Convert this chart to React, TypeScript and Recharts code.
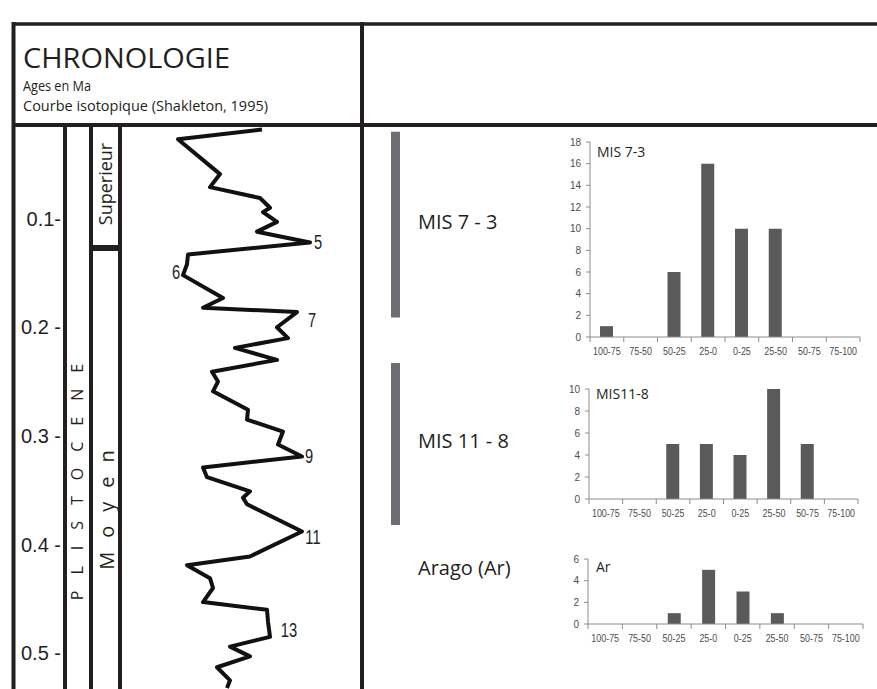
import React from 'react'
import { LineChart, Line, XAxis, YAxis, ReferenceArea, ReferenceDot, BarChart, Bar } from 'recharts'

const INK = '#231f20'
const AXIS = '#8c8c8c'
const ARIAL = '"Liberation Sans", Arial, sans-serif'
const SANS = '"Open Sans", "Noto Sans", sans-serif'

// Courbe isotopique (Shakleton, 1995)
// age in Ma, iso = relative d18O position inside the curve column
const curveAges = [
  0.018, 0.027, 0.059, 0.071, 0.081, 0.09, 0.094, 0.103, 0.112, 0.122,
  0.133, 0.142, 0.152, 0.173, 0.182, 0.186, 0.2, 0.21, 0.219, 0.23,
  0.241, 0.25, 0.259, 0.276, 0.285, 0.296, 0.308, 0.319, 0.329, 0.338,
  0.351, 0.357, 0.363, 0.388, 0.411, 0.419, 0.431, 0.44, 0.453, 0.46,
  0.471, 0.485, 0.494, 0.503, 0.513, 0.525, 0.532,
]
const curveIso = [
  142, 58, 100, 90, 140, 150, 143, 157, 137, 190,
  68, 67, 63, 103, 83, 177, 157, 168, 115, 157,
  92, 98, 93, 128, 127, 163, 158, 182, 83, 87,
  130, 123, 127, 182, 130, 67, 90, 93, 83, 147,
  148, 150, 110, 130, 97, 110, 107,
]

const ageTicks = [0.1, 0.2, 0.3, 0.4, 0.5]
const ageTickLabels = ['0.1-', '0.2 -', '0.3 -', '0.4 -', '0.5 -']

// MIS stage numbers written next to the curve
const stageNames = ['5', '6', '7', '9', '11', '13']
const stageIso = [198, 56, 192, 189, 193, 169]
const stageAges = [0.122, 0.149, 0.193, 0.319, 0.393, 0.479]

// periods (grey bars) and their labels
const periodNames = ['MIS 7 - 3', 'MIS 11 - 8', 'Arago (Ar)']
const periodStart = [0.02, 0.233, null]
const periodEnd = [0.191, 0.382, null]
const periodLabelAge = [0.103, 0.304, 0.421]

// histogram classes
const classes = ['100-75', '75-50', '50-25', '25-0', '0-25', '25-50', '50-75', '75-100']
const countsMis73 = [1, 0, 6, 16, 10, 10, 0, 0]
const countsMis118 = [0, 0, 5, 5, 4, 10, 5, 0]
const countsArago = [0, 0, 1, 5, 3, 1, 0, 0]

const ticksMis73 = [0, 2, 4, 6, 8, 10, 12, 14, 16, 18]
const ticksMis118 = [0, 2, 4, 6, 8, 10]
const ticksArago = [0, 2, 4, 6]

// condensed look: squeeze text horizontally
const Narrow = ({ x, y, children, size, anchor = 'middle', squeeze = 0.7 }: any) => (
  <text
    transform={`translate(${x},${y}) scale(${squeeze},1)`}
    textAnchor={anchor}
    dominantBaseline="central"
    fontSize={size}
    fontFamily={ARIAL}
    fill={INK}
  >
    {children}
  </text>
)

function Chronology() {
  const data = curveAges.map((age, i) => ({ age, iso: curveIso[i] }))
  return (
    <div style={{ position: 'absolute', left: 12, top: 110 }}>
      <LineChart width={548} height={579} data={data} margin={{ top: 0, right: 0, bottom: 0, left: 0 }}>
        <XAxis type="number" dataKey="iso" domain={[0, 440]} hide />
        <YAxis
          type="number"
          domain={[0, 0.533]}
          reversed
          allowDataOverflow
          ticks={ageTicks}
          interval={0}
          width={108}
          axisLine={false}
          tickLine={false}
          tickSize={0}
          tickMargin={59}
          tickFormatter={(v: number) => ageTickLabels[ageTicks.indexOf(v)]}
          tick={{ fontSize: 20, fontFamily: ARIAL, fill: INK }}
        />
        {periodNames.map((name, i) =>
          periodStart[i] === null ? null : (
            <ReferenceArea
              key={name}
              x1={271}
              x2={280}
              y1={periodStart[i] as number}
              y2={periodEnd[i] as number}
              fill="#6d6e71"
              fillOpacity={1}
              stroke="none"
            />
          )
        )}
        <Line
          type="linear"
          dataKey="age"
          stroke="#111"
          strokeWidth={4}
          strokeLinejoin="round"
          dot={false}
          isAnimationActive={false}
        />
        {stageNames.map((s, i) => (
          <ReferenceDot
            key={s}
            x={stageIso[i]}
            y={stageAges[i]}
            r={1}
            shape={(p: any) => (
              <Narrow x={p.cx} y={p.cy} size={21}>
                {s}
              </Narrow>
            )}
          />
        ))}
        {periodNames.map((name, i) => (
          <ReferenceDot
            key={name}
            x={298}
            y={periodLabelAge[i]}
            r={1}
            shape={(p: any) => (
              <text x={p.cx} y={p.cy} dominantBaseline="central" fontSize={20} fontFamily={SANS} fill={INK}>
                {name}
              </text>
            )}
          />
        ))}
      </LineChart>
    </div>
  )
}

function ClassTick(props: any) {
  const { x, y, payload, index, half, last } = props
  return (
    <g>
      <line x1={x - half} x2={x - half} y1={y - 11} y2={y - 6} stroke={AXIS} />
      {index === last && <line x1={x + half} x2={x + half} y1={y - 11} y2={y - 6} stroke={AXIS} />}
      <text
        transform={`translate(${x},${y}) scale(0.85,1)`}
        dy="0.71em"
        textAnchor="middle"
        fontSize={10.5}
        fontFamily={ARIAL}
        fill="#4d4d4d"
      >
        {payload.value}
      </text>
    </g>
  )
}

function Distribution({ counts, yMax, yTicks, left, top, width, plotHeight }: any) {
  const data = classes.map((c, i) => ({ c, n: counts[i] }))
  const half = (width - 40) / classes.length / 2
  return (
    <div style={{ position: 'absolute', left, top }}>
      <BarChart
        width={width}
        height={12 + plotHeight + 25}
        data={data}
        margin={{ top: 12, right: 5, bottom: 0, left: 0 }}
        barSize={13}
      >
        <XAxis
          dataKey="c"
          interval={0}
          height={25}
          axisLine={{ stroke: AXIS }}
          tickLine={false}
          tickSize={4}
          tickMargin={7}
          tick={(p: any) => <ClassTick {...p} half={half} last={classes.length - 1} />}
        />
        <YAxis
          domain={[0, yMax]}
          ticks={yTicks}
          interval={0}
          width={35}
          axisLine={{ stroke: AXIS }}
          tickLine={{ stroke: AXIS }}
          tickSize={4}
          tickMargin={5}
          tick={{ fontSize: 10, fontFamily: ARIAL, fill: '#4d4d4d' }}
        />
        <Bar dataKey="n" fill="#5a5a5a" isAnimationActive={false} />
      </BarChart>
    </div>
  )
}

function Frame() {
  const lw = 4
  return (
    <svg width={877} height={689} style={{ position: 'absolute', left: 0, top: 0, pointerEvents: 'none' }}>
      <g stroke={INK} fill="none">
        <line x1={12} x2={877} y1={24} y2={24} strokeWidth={3.5} />
        <line x1={13.5} x2={13.5} y1={22} y2={689} strokeWidth={lw} />
        <line x1={12} x2={877} y1={125} y2={125} strokeWidth={lw} />
        <line x1={362} x2={362} y1={22} y2={689} strokeWidth={lw} />
        <line x1={65} x2={65} y1={125} y2={689} strokeWidth={lw} />
        <line x1={91} x2={91} y1={125} y2={689} strokeWidth={lw} />
        <line x1={120} x2={120} y1={125} y2={689} strokeWidth={lw} />
      </g>
      <rect x={89} y={245} width={33} height={6} fill={INK} />

      <text x={23} y={68} fontSize={28} fontFamily={SANS} fill={INK} textLength={207} lengthAdjust="spacingAndGlyphs">
        CHRONOLOGIE
      </text>
      <text x={23} y={91} fontSize={14} fontFamily={SANS} fill={INK} textLength={68} lengthAdjust="spacingAndGlyphs">
        Ages en Ma
      </text>
      <text x={23} y={111} fontSize={15} fontFamily={SANS} fill={INK} textLength={245} lengthAdjust="spacingAndGlyphs">
        Courbe isotopique (Shakleton, 1995)
      </text>

      <text transform="translate(105,184) rotate(-90)" textAnchor="middle" dominantBaseline="central"
        fontSize={18} fontFamily={SANS} fill={INK}>Superieur</text>
      <text transform="translate(106,503) rotate(-90)" textAnchor="middle" dominantBaseline="central"
        fontSize={20} fontFamily={SANS} letterSpacing={14} fill={INK}>Moyen</text>
      <text transform="translate(77,474) rotate(-90)" textAnchor="middle" dominantBaseline="central"
        fontSize={16} fontFamily={SANS} letterSpacing={16} fill={INK}>PLISTOCENE</text>

      <text x={597} y={157} fontSize={14} fontFamily={SANS} fill={INK}>MIS 7-3</text>
      <text x={596} y={399} fontSize={14} fontFamily={SANS} fill={INK}>MIS11-8</text>
      <text x={596} y={572} fontSize={14} fontFamily={SANS} fill={INK}>Ar</text>
    </svg>
  )
}

export default function App() {
  return (
    <div
      style={{
        position: 'absolute',
        left: 0,
        top: 0,
        width: 877,
        height: 689,
        overflow: 'hidden',
        background: '#fff',
        fontFamily: SANS,
      }}
    >
      <Chronology />
      <Distribution counts={countsMis73} yMax={18} yTicks={ticksMis73} left={555} top={130} width={310} plotHeight={195} />
      <Distribution counts={countsMis118} yMax={10} yTicks={ticksMis118} left={554} top={377} width={309} plotHeight={110} />
      <Distribution counts={countsArago} yMax={6} yTicks={ticksArago} left={553} top={547} width={315} plotHeight={65} />
      <Frame />
    </div>
  )
}
